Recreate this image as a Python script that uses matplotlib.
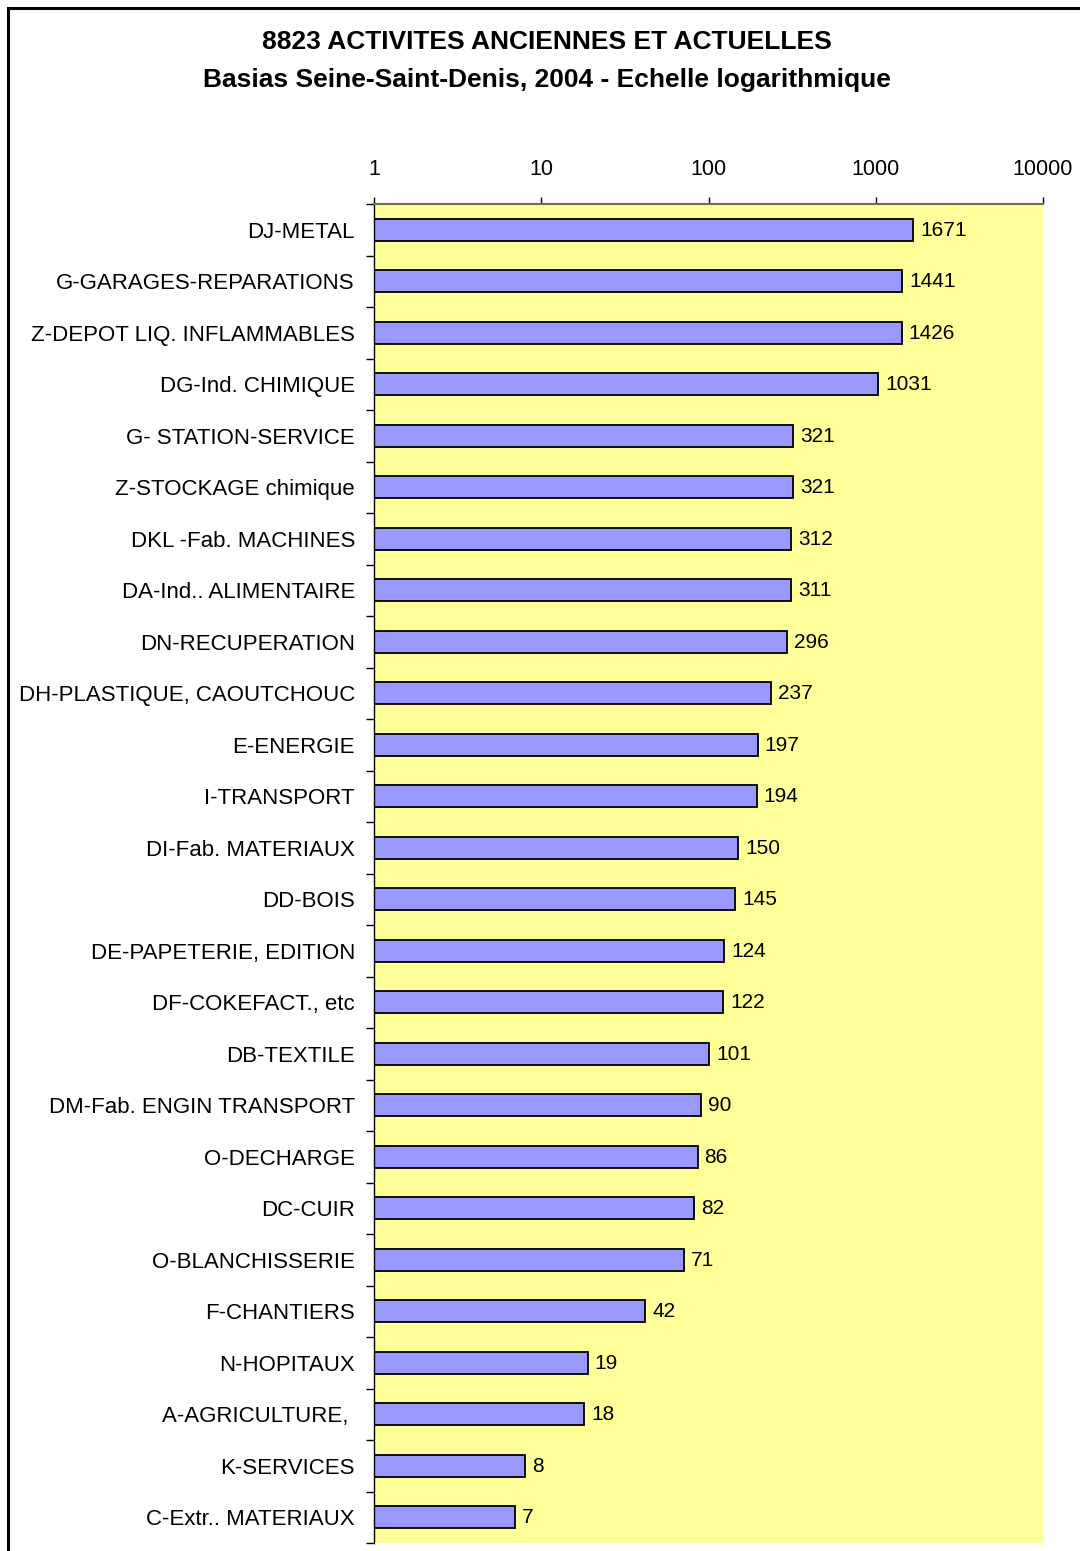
import matplotlib
matplotlib.use("Agg")
import matplotlib.pyplot as plt
from matplotlib.ticker import NullLocator, NullFormatter
import numpy as np

plt.rcParams['font.family'] = ['Liberation Sans', 'DejaVu Sans']

categories = [
    "DJ-METAL", "G-GARAGES-REPARATIONS", "Z-DEPOT LIQ. INFLAMMABLES", "DG-Ind. CHIMIQUE",
    "G- STATION-SERVICE", "Z-STOCKAGE chimique", "DKL -Fab. MACHINES", "DA-Ind.. ALIMENTAIRE",
    "DN-RECUPERATION", "DH-PLASTIQUE, CAOUTCHOUC", "E-ENERGIE", "I-TRANSPORT",
    "DI-Fab. MATERIAUX", "DD-BOIS", "DE-PAPETERIE, EDITION", "DF-COKEFACT., etc",
    "DB-TEXTILE", "DM-Fab. ENGIN TRANSPORT", "O-DECHARGE", "DC-CUIR",
    "O-BLANCHISSERIE", "F-CHANTIERS", "N-HOPITAUX", "A-AGRICULTURE, ",
    "K-SERVICES", "C-Extr.. MATERIAUX",
]
values = [1671, 1441, 1426, 1031, 321, 321, 312, 311, 296, 237, 197, 194, 150, 145,
          124, 122, 101, 90, 86, 82, 71, 42, 19, 18, 8, 7]
tick_values = [1, 10, 100, 1000, 10000]
tick_labels = ["1", "10", "100", "1000", "10000"]
title_lines = ["8823 ACTIVITES ANCIENNES ET ACTUELLES",
               "Basias Seine-Saint-Denis, 2004 - Echelle logarithmique"]

W, H = 1080, 1551
fig = plt.figure(figsize=(W / 100, H / 100), dpi=100)
fig.patch.set_facecolor("white")

# outer frame (extends past right/bottom edges)
fig.add_artist(plt.Rectangle((8 / W, -0.01), 1.05, 1 - 8 / H + 0.01, transform=fig.transFigure,
                             fill=False, edgecolor="black", linewidth=2.2))

left, right, top, bottom = 374 / W, 1043 / W, 1 - 204 / H, 1 - 1543 / H
ax = fig.add_axes([left, bottom, right - left, top - bottom])
ax.set_facecolor("#FFFF99")

n = len(categories)
y = np.arange(n)
ax.barh(y, values, height=0.43, color="#9999FF", edgecolor="black", linewidth=1.3)
ax.set_xscale("log")
ax.set_xlim(1, 10000)
ax.set_ylim(n - 0.5, -0.5)

ax.xaxis.tick_top()
ax.set_xticks(tick_values)
ax.set_xticklabels(tick_labels, fontsize=15.5)
ax.xaxis.set_minor_locator(NullLocator())
ax.xaxis.set_minor_formatter(NullFormatter())
ax.tick_params(axis="x", which="major", direction="out", length=5, width=1, pad=12, colors="black")

ax.set_yticks(y)
ax.set_yticklabels(categories, fontsize=16)
ax.tick_params(axis="y", which="major", length=0, pad=13.7)
ax.set_yticks(np.arange(n + 1) - 0.5, minor=True)
ax.yaxis.set_minor_formatter(NullFormatter())
ax.tick_params(axis="y", which="minor", direction="out", length=6, width=1, color="black")

for s in ["right", "bottom"]:
    ax.spines[s].set_visible(False)
ax.spines["top"].set_color("#6E6E50")
ax.spines["top"].set_linewidth(1.5)
ax.spines["left"].set_color("black")
ax.spines["left"].set_linewidth(1)

for yi, v in zip(y, values):
    ax.annotate(str(v), xy=(v, yi), xytext=(5, -0.5), textcoords="offset points",
                ha="left", va="center", fontsize=15)

fig.text(547 / W, 1 - 42 / H, title_lines[0], ha="center", va="center", fontsize=19, fontweight="bold")
fig.text(547 / W, 1 - 80 / H, title_lines[1], ha="center", va="center", fontsize=19, fontweight="bold")

fig.savefig("out.png", dpi=100)
